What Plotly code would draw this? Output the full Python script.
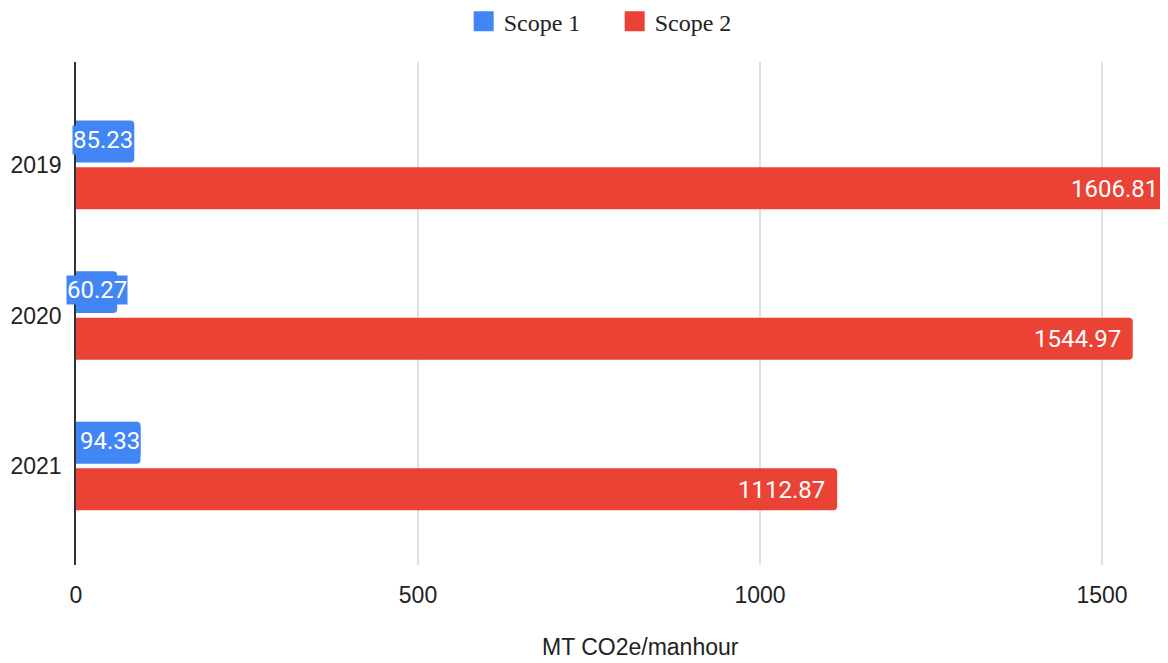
import plotly.graph_objects as go

years = ["2019", "2020", "2021"]
scope1 = [85.23, 60.27, 94.33]
scope2 = [1606.81, 1544.97, 1112.87]
x_ticks = [0, 500, 1000, 1500]
X_MAX = 1596.5
X_TITLE = "MT CO2e/manhour"

BLUE = "#4285F4"
RED = "#EA4335"
LABEL_FONT = dict(family="Roboto", size=24, color="white")

fig = go.Figure()
fig.add_trace(go.Bar(
    y=years, x=scope1, orientation="h", name="Scope 1", showlegend=False,
    marker=dict(color=BLUE, line=dict(width=0)),
))
fig.add_trace(go.Bar(
    y=years, x=scope2, orientation="h", name="Scope 2", showlegend=False,
    marker=dict(color=RED, line=dict(width=0)),
))
# legend entries (larger square swatches)
for name, col in [("Scope 1", BLUE), ("Scope 2", RED)]:
    fig.add_trace(go.Scatter(
        x=[None], y=[None], mode="markers", name=name,
        marker=dict(symbol="square", size=16, color=col,
                    line=dict(color=col, width=4)),
    ))

# Scope 1 value labels (blue background, may overflow small bars)
for i, v in enumerate(scope1):
    small = v < 75
    fig.add_annotation(
        x=v / 2 if small else v, y=i, xref="x", yref="y",
        text=f"{v:.2f}", showarrow=False,
        xanchor="center" if small else "right", yshift=25,
        bgcolor=BLUE, borderpad=0, font=LABEL_FONT,
    )
# Scope 2 value labels (inside end of the visible bar)
for i, v in enumerate(scope2):
    fig.add_annotation(
        x=min(v, X_MAX), y=i, xref="x", yref="y", text=f"{v:.2f}", showarrow=False,
        xanchor="right", xshift=-10 if v < X_MAX else -8, yshift=-24, font=LABEL_FONT,
    )

# x-axis title
fig.add_annotation(
    x=0.5165, y=0, xref="paper", yref="paper", text=X_TITLE, showarrow=False,
    xanchor="center", yanchor="middle", yshift=-82,
    font=dict(family="Liberation Sans", size=23, color="#222"),
)

fig.update_layout(
    width=1160, height=655,
    margin=dict(l=68, r=0, t=54, b=98, autoexpand=False),
    paper_bgcolor="white", plot_bgcolor="white",
    barmode="group", bargap=0.38, bargroupgap=0.1,
    barcornerradius=4,
    legend=dict(orientation="h", xref="container", yref="container",
                x=0.523, xanchor="center", y=0.979, yanchor="middle",
                entrywidth=106, entrywidthmode="pixels",
                font=dict(family="Liberation Serif", size=24, color="#222")),
    font=dict(family="Liberation Sans", size=24, color="#222"),
)
fig.update_xaxes(
    range=[0, X_MAX], tickvals=x_ticks, ticktext=[str(t) for t in x_ticks],
    showgrid=True, gridcolor="#e0e0e0", gridwidth=2, zeroline=False,
    ticks="outside", ticklen=9, tickcolor="rgba(0,0,0,0)",
    tickfont=dict(family="Liberation Sans", size=23, color="#222"),
)
fig.update_yaxes(
    type="category", categoryorder="array", categoryarray=years,
    range=[2.658, -0.684],
    showline=True, linecolor="#333", linewidth=1.5,
    ticks="outside", ticklen=8, tickcolor="rgba(0,0,0,0)",
    tickfont=dict(family="Liberation Sans", size=23, color="#222"),
)

fig.write_html("out.html")
